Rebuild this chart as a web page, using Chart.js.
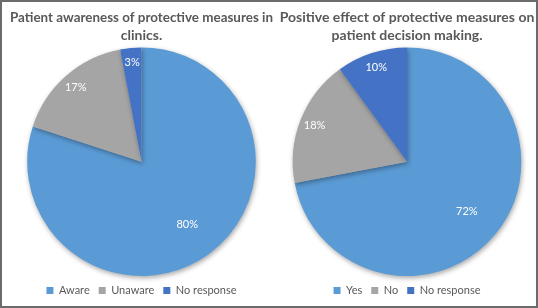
<!DOCTYPE html>
<html>
<head>
<meta charset="utf-8">
<script src="https://cdn.jsdelivr.net/npm/chart.js@4/dist/chart.umd.min.js"></script>
<style>
  html, body { margin: 0; padding: 0; background: #fff; }
  #frame {
    position: relative; width: 538px; height: 308px; box-sizing: border-box;
    border: 2px solid #6b6b6b; overflow: hidden; background: #fff;
  }
  .box { position: absolute; top: 0; height: 304px; }
  #leftBox { left: 8px; width: 263px; }
  #rightBox { left: 274px; width: 262px; }
</style>
</head>
<body>
<div id="frame">
  <div class="box" id="leftBox"><canvas id="awarenessChart"></canvas></div>
  <div class="box" id="rightBox"><canvas id="effectChart"></canvas></div>
</div>
<script>
// Chart data
const awarenessTitle = ["Patient awareness of protective measures in", "clinics."];
const awarenessLabels = ["Aware", "Unaware", "No response"];
const awarenessValues = [80, 17, 3];

const effectTitle = ["Positive effect of protective measures on", "patient decision making."];
const effectLabels = ["Yes", "No", "No response"];
const effectValues = [72, 18, 10];

const sliceColors = ["#5B9BD5", "#A5A5A5", "#4472C4"];
const fontFamily = "Lato, 'Open Sans', sans-serif";

// Soft shadow under the pie, like the Excel effect
const pieShadow = {
  id: "pieShadow",
  beforeDatasetsDraw(chart) {
    const ctx = chart.ctx;
    ctx.save();
    ctx.shadowColor = "rgba(0,0,0,0.35)";
    ctx.shadowBlur = 5;
    ctx.shadowOffsetX = 1;
    ctx.shadowOffsetY = 2;
  },
  afterDatasetsDraw(chart) {
    chart.ctx.restore();
  }
};

// Percent labels inside each slice
const sliceLabels = {
  id: "sliceLabels",
  afterDatasetsDraw(chart) {
    const ctx = chart.ctx;
    const meta = chart.getDatasetMeta(0);
    const values = chart.data.datasets[0].data;
    ctx.save();
    ctx.fillStyle = "#ffffff";
    ctx.font = "11px " + fontFamily;
    ctx.textAlign = "center";
    ctx.textBaseline = "middle";
    meta.data.forEach((arc, i) => {
      const { x, y, startAngle, endAngle, outerRadius } = arc.getProps(
        ["x", "y", "startAngle", "endAngle", "outerRadius"], true);
      const mid = (startAngle + endAngle) / 2;
      const frac = values[i] > 50 ? 0.68 : 0.87;
      ctx.fillText(values[i] + "%", x + Math.cos(mid) * outerRadius * frac,
        y + Math.sin(mid) * outerRadius * frac);
    });
    ctx.restore();
  }
};

function makePie(canvasId, title, labels, values) {
  const ctx = document.getElementById(canvasId).getContext("2d");
  return new Chart(ctx, {
    type: "pie",
    data: {
      labels,
      datasets: [{
        data: values,
        backgroundColor: sliceColors,
        borderWidth: 0
      }]
    },
    options: {
      responsive: true,
      maintainAspectRatio: false,
      animation: false,
      layout: { padding: { top: 0, bottom: 0, left: 0, right: 0 } },
      plugins: {
        title: {
          display: true,
          text: title,
          color: "#595959",
          font: { family: fontFamily, size: 14, weight: "bold", lineHeight: 1.3 },
          padding: { top: 6, bottom: 3 }
        },
        legend: {
          position: "bottom",
          labels: {
            color: "#595959",
            font: { family: fontFamily, size: 11 },
            boxWidth: 7,
            boxHeight: 7,
            padding: 9
          }
        },
        tooltip: { enabled: false }
      }
    },
    plugins: [pieShadow, sliceLabels]
  });
}

makePie("awarenessChart", awarenessTitle, awarenessLabels, awarenessValues);
makePie("effectChart", effectTitle, effectLabels, effectValues);
</script>
</body>
</html>
